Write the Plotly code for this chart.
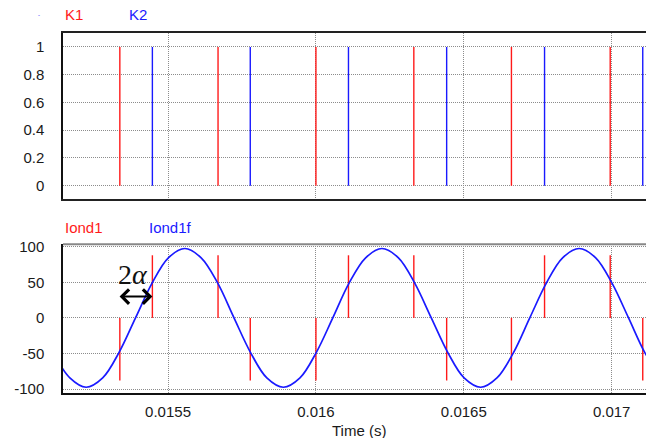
import plotly.graph_objects as go

# ---- data ----
# switching instants (s)
k1_times = [0.015337, 0.015669, 0.016000, 0.016331, 0.016661, 0.016995]
k2_times = [0.015447, 0.015778, 0.016110, 0.016442, 0.016773, 0.017105]

# Iond1 pulses: instant and pulse peak value
iond1_times = [0.015337, 0.015447, 0.015669, 0.015778, 0.016000, 0.016110,
               0.016331, 0.016442, 0.016661, 0.016773, 0.016995, 0.017105]
iond1_peaks = [-88, 88, 88, -88, -88, 88, 88, -88, -88, 88, 88, -88]

# Iond1f filtered current samples
time_f = [0.015112, 0.015168, 0.015223, 0.015279, 0.015334, 0.015390,
          0.015446, 0.015501, 0.015557, 0.015612, 0.015668, 0.015723,
          0.015779, 0.015834, 0.015890, 0.015946, 0.016001, 0.016057,
          0.016112, 0.016168, 0.016223, 0.016279, 0.016334, 0.016390,
          0.016446, 0.016501, 0.016557, 0.016612, 0.016668, 0.016723,
          0.016779, 0.016834, 0.016890, 0.016946, 0.017001, 0.017057,
          0.017112, 0.017168]
iond1f = [-48.8, -84.4, -97.5, -84.4, -48.8, 0.0,
          48.8, 84.4, 97.5, 84.4, 48.8, 0.0,
          -48.8, -84.4, -97.5, -84.4, -48.8, 0.0,
          48.8, 84.4, 97.5, 84.4, 48.8, 0.0,
          -48.8, -84.4, -97.5, -84.4, -48.8, 0.0,
          48.8, 84.4, 97.5, 84.4, 48.8, 0.0,
          -48.8, -84.4]

x_ticks = [0.0155, 0.016, 0.0165, 0.017]
x_tick_labels = ["0.0155", "0.016", "0.0165", "0.017"]
y1_ticks = [0, 0.2, 0.4, 0.6, 0.8, 1]
y1_tick_labels = ["0", "0.2", "0.4", "0.6", "0.8", "1"]
y2_ticks = [-100, -50, 0, 50, 100]
y2_tick_labels = ["-100", "-50", "0", "50", "100"]

RED = "#ff1a1a"
BLUE = "#1a1aff"
FONT = "Arial, Liberation Sans, sans-serif"
GRID = "#8c8c8c"


def pulses(times, lows, highs):
    xs, ys = [], []
    for t, lo, hi in zip(times, lows, highs):
        xs += [t, t, None]
        ys += [lo, hi, None]
    return xs, ys


fig = go.Figure()

x, y = pulses(k1_times, [0] * len(k1_times), [1] * len(k1_times))
fig.add_trace(go.Scatter(x=x, y=y, mode="lines", name="K1",
                         line=dict(color=RED, width=1.4), xaxis="x", yaxis="y"))
x, y = pulses(k2_times, [0] * len(k2_times), [1] * len(k2_times))
fig.add_trace(go.Scatter(x=x, y=y, mode="lines", name="K2",
                         line=dict(color=BLUE, width=1.4), xaxis="x", yaxis="y"))

x, y = pulses(iond1_times, [0] * len(iond1_times), iond1_peaks)
fig.add_trace(go.Scatter(x=x, y=y, mode="lines", name="Iond1",
                         line=dict(color=RED, width=1.4), xaxis="x2", yaxis="y2"))
fig.add_trace(go.Scatter(x=time_f, y=iond1f, mode="lines", name="Iond1f",
                         line=dict(color=BLUE, width=1.7, shape="spline"),
                         xaxis="x2", yaxis="y2"))

x_range = [0.0151448, 0.017116]
common_x = dict(range=x_range, tickvals=x_ticks, ticktext=x_tick_labels,
                showgrid=True, gridcolor=GRID, griddash="1px,1px", gridwidth=1,
                zeroline=False, ticks="", fixedrange=True)
common_y = dict(showgrid=True, gridcolor=GRID, griddash="1px,1px", gridwidth=1,
                zeroline=False, ticks="", showline=True, linecolor="#111",
                linewidth=1.5, ticklabelstandoff=14, fixedrange=True)

fig.update_layout(
    width=646, height=438,
    margin=dict(l=63, r=0, t=33, b=45),
    paper_bgcolor="white", plot_bgcolor="white",
    showlegend=False,
    font=dict(family=FONT, size=15, color="#1a1a1a"),
    xaxis=dict(common_x, anchor="y", domain=[0, 1], showticklabels=False,
               showline=True, mirror=True, linecolor="#222", linewidth=1.5),
    yaxis=dict(common_y, domain=[0.538, 1], range=[-0.098, 1.1],
               tickvals=y1_ticks, ticktext=y1_tick_labels),
    xaxis2=dict(common_x, anchor="y2", domain=[0, 1], showline=True,
                linecolor="#111", linewidth=1.5, ticklabelstandoff=4),
    yaxis2=dict(common_y, domain=[0, 0.413], range=[-105.6, 103.4],
                tickvals=y2_ticks, ticktext=y2_tick_labels),
    shapes=[dict(type="line", xref="paper", yref="paper", x0=0, x1=1,
                 y0=0.413, y1=0.413, line=dict(color="#888", width=2))],
)

annotations = [
    dict(text="K1", x=0.0, y=1.05, font=dict(color=RED)),
    dict(text="K2", x=0.109, y=1.05, font=dict(color=BLUE)),
    dict(text="Iond1", x=0.0, y=0.461, font=dict(color=RED)),
    dict(text="Iond1f", x=0.144, y=0.461, font=dict(color=BLUE)),
    dict(text="-", x=-0.047, y=1.05, font=dict(color=BLUE, size=6)),
]
for a in annotations:
    fig.add_annotation(xref="paper", yref="paper", xanchor="left",
                       yanchor="middle", showarrow=False, **a)

fig.add_annotation(text="Time (s)", xref="paper", yref="paper", x=0.507,
                   y=-0.103, xanchor="center", yanchor="middle",
                   showarrow=False, font=dict(size=15, color="#1a1a1a"))

# 2α label and double arrow between the first K1 and K2 instants
fig.add_annotation(text="2<i>α</i>", xref="x2", yref="y2",
                   x=(k1_times[0] + k2_times[0]) / 2 - 0.000012, y=61,
                   showarrow=False,
                   font=dict(family="Liberation Serif, Times New Roman, serif",
                             size=28, color="#111"))
fig.add_annotation(xref="x2", yref="y2", axref="x2", ayref="y2",
                   x=k2_times[0], y=30, ax=k1_times[0] - 0.000006, ay=30,
                   text="", showarrow=True, arrowside="end+start",
                   arrowhead=4, startarrowhead=4, arrowsize=1.4,
                   startarrowsize=1.4, arrowwidth=2, arrowcolor="black",
                   standoff=0, startstandoff=0)

fig.write_html("out.html",
               config={"displayModeBar": False, "staticPlot": False},
               post_script="document.body.style.margin='0';"
                           "document.body.style.padding='0';")
